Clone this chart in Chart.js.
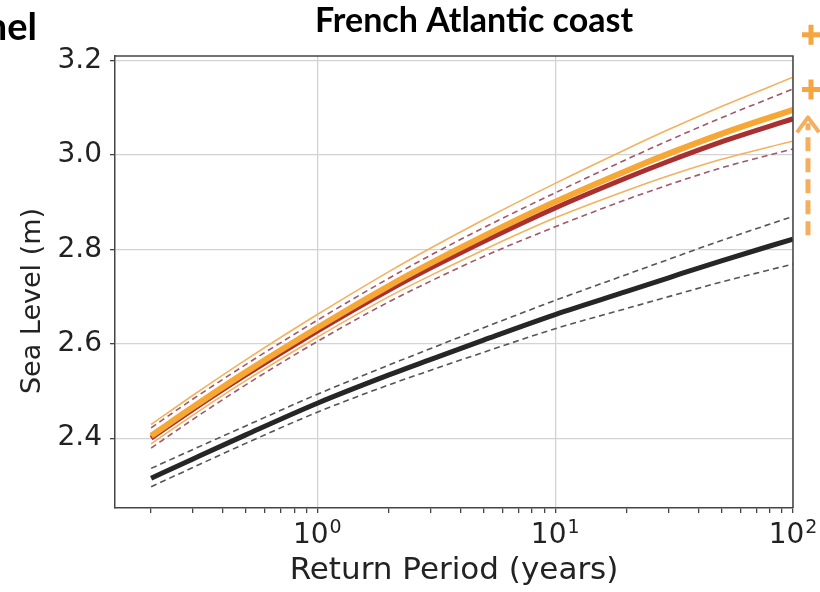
<!DOCTYPE html>
<html>
<head>
<meta charset="utf-8">
<script src="https://cdn.jsdelivr.net/npm/chart.js@4.4.1/dist/chart.umd.min.js"></script>
<style>
  body { margin: 0; background: #fff; overflow: hidden; }
  #wrap { width: 820px; height: 592px; }
</style>
</head>
<body>
<div id="wrap"><canvas id="chart" width="820" height="592"></canvas></div>
<script>
// Return periods (years) sampled along the curves
const returnPeriods = [0.2, 0.3, 0.5, 1, 2, 3, 5, 10, 20, 30, 50, 100];

// Present-day return levels (black)
const histCentral = [2.315, 2.356, 2.407, 2.474, 2.534, 2.567, 2.608, 2.662, 2.711, 2.740, 2.776, 2.822];
const histUpper   = [2.336, 2.376, 2.426, 2.493, 2.555, 2.590, 2.634, 2.692, 2.747, 2.779, 2.819, 2.870];
const histLower   = [2.297, 2.338, 2.389, 2.455, 2.513, 2.544, 2.582, 2.632, 2.675, 2.700, 2.731, 2.769];

// Future return levels (dark red)
const redCentral  = [2.400, 2.461, 2.534, 2.627, 2.714, 2.761, 2.817, 2.888, 2.952, 2.987, 3.028, 3.077];
const redUpper    = [2.422, 2.483, 2.556, 2.650, 2.739, 2.788, 2.846, 2.920, 2.991, 3.031, 3.079, 3.140];
const redLower    = [2.379, 2.440, 2.513, 2.605, 2.689, 2.733, 2.785, 2.848, 2.906, 2.937, 2.973, 3.013];

// Future return levels (orange)
const orangeCentral = [2.405, 2.466, 2.540, 2.634, 2.723, 2.771, 2.828, 2.901, 2.967, 3.003, 3.045, 3.096];
const orangeUpper   = [2.429, 2.491, 2.566, 2.662, 2.753, 2.803, 2.863, 2.940, 3.013, 3.054, 3.103, 3.165];
const orangeLower   = [2.388, 2.449, 2.522, 2.614, 2.700, 2.745, 2.799, 2.867, 2.925, 2.956, 2.991, 3.030];

// Axis ticks
const yTickValues = [2.4, 2.6, 2.8, 3.0, 3.2];
const xMajorTicks = [1, 10, 100];
const xTickExponents = ['0', '1', '2'];
const xMinorTicks = [0.2, 0.3, 0.4, 0.5, 0.6, 0.7, 0.8, 0.9,
                     2, 3, 4, 5, 6, 7, 8, 9,
                     20, 30, 40, 50, 60, 70, 80, 90];

// Markers to the right of the plot
const plusLevels = [3.255, 3.139];
const arrowRange = [2.83, 3.08];

const toPoints = arr => arr.map((v, i) => ({ x: returnPeriods[i], y: v }));

function line(data, color, width, dash, order) {
  return {
    data: toPoints(data),
    borderColor: color,
    borderWidth: width,
    borderDash: dash || [],
    pointRadius: 0,
    fill: false,
    cubicInterpolationMode: 'monotone',
    order: order
  };
}

const extras = {
  id: 'extras',
  afterDraw(chart) {
    const ctx = chart.ctx;
    const area = chart.chartArea;
    const xs = chart.scales.x;
    const ys = chart.scales.y;
    ctx.save();

    // frame (top and right spines)
    ctx.strokeStyle = '#444';
    ctx.lineWidth = 1.5;
    ctx.beginPath();
    ctx.moveTo(area.left, area.top);
    ctx.lineTo(area.right, area.top);
    ctx.lineTo(area.right, area.bottom);
    ctx.stroke();

    // x tick labels as 10^n
    ctx.fillStyle = '#222';
    ctx.textBaseline = 'alphabetic';
    ctx.textAlign = 'left';
    xMajorTicks.forEach((v, i) => {
      const px = xs.getPixelForValue(v);
      ctx.font = '28px "DejaVu Sans", sans-serif';
      const w1 = ctx.measureText('10').width;
      ctx.font = '19px "DejaVu Sans", sans-serif';
      const w2 = ctx.measureText(xTickExponents[i]).width;
      const start = px - (w1 + w2 + 1) / 2;
      ctx.font = '28px "DejaVu Sans", sans-serif';
      ctx.fillText('10', start, area.bottom + 35);
      ctx.font = '19px "DejaVu Sans", sans-serif';
      ctx.fillText(xTickExponents[i], start + w1 + 1, area.bottom + 25);
    });

    // titles
    ctx.fillStyle = '#000';
    ctx.font = 'bold 34px Lato, "Open Sans", sans-serif';
    ctx.textAlign = 'center';
    ctx.fillText('French Atlantic coast', 474, 32);

    ctx.font = 'bold 38px Lato, "Open Sans", sans-serif';
    ctx.textAlign = 'right';
    ctx.fillText('English Channel', 37, 40);

    // y axis title
    ctx.fillStyle = '#222';
    ctx.font = '27px "DejaVu Sans", sans-serif';
    ctx.textAlign = 'center';
    ctx.translate(40, 301);
    ctx.rotate(-Math.PI / 2);
    ctx.fillText('Sea Level (m)', 0, 0);
    ctx.setTransform(1, 0, 0, 1, 0, 0);

    // plus markers
    const mx = area.right + 18;
    ctx.strokeStyle = '#f5a640';
    ctx.lineWidth = 5;
    plusLevels.forEach(v => {
      const py = ys.getPixelForValue(v);
      ctx.beginPath();
      ctx.moveTo(mx - 9, py); ctx.lineTo(mx + 9, py);
      ctx.moveTo(mx, py - 10); ctx.lineTo(mx, py + 10);
      ctx.stroke();
    });

    // dashed arrow
    const ax = area.right + 15;
    const y0 = ys.getPixelForValue(arrowRange[0]);
    const y1 = ys.getPixelForValue(arrowRange[1]);
    ctx.strokeStyle = '#f3ae5e';
    ctx.lineWidth = 5;
    ctx.setLineDash([14, 7]);
    ctx.beginPath();
    ctx.moveTo(ax, y0); ctx.lineTo(ax, y1 + 6);
    ctx.stroke();
    ctx.setLineDash([]);
    ctx.lineWidth = 4;
    ctx.lineJoin = 'round';
    ctx.beginPath();
    ctx.moveTo(ax - 11, y1 + 15); ctx.lineTo(ax, y1); ctx.lineTo(ax + 11, y1 + 15);
    ctx.stroke();
    ctx.restore();
  }
};

new Chart(document.getElementById('chart'), {
  type: 'line',
  data: {
    datasets: [
      line(orangeCentral, '#f7a733', 6, null, 0),
      line(redCentral, '#a83030', 5, null, 1),
      line(histCentral, '#262626', 5, null, 1),
      line(orangeUpper, '#f2b25f', 1.6, null, 3),
      line(orangeLower, '#f2b25f', 1.6, null, 3),
      line(redUpper, '#a0586a', 1.6, [6, 4], 2),
      line(redLower, '#a0586a', 1.6, [6, 4], 2),
      line(histUpper, '#555', 1.6, [6, 4], 2),
      line(histLower, '#555', 1.6, [6, 4], 2)
    ]
  },
  options: {
    responsive: false,
    animation: false,
    layout: { padding: { left: 0, right: 27, top: 56, bottom: 0 } },
    plugins: { legend: { display: false }, tooltip: { enabled: false } },
    scales: {
      x: {
        type: 'logarithmic',
        min: 0.141,
        max: 100,
        afterBuildTicks: s => {
          s.ticks = xMinorTicks.concat(xMajorTicks).sort((a, b) => a - b)
            .map(v => ({ value: v, major: xMajorTicks.includes(v) }));
        },
        afterFit: s => { s.height = 84; },
        ticks: {
          autoSkip: false,
          maxRotation: 0,
          callback: () => ''
        },
        grid: {
          color: c => (c.tick && xMajorTicks.includes(c.tick.value)) ? '#d2d2d2' : 'rgba(0,0,0,0)',
          lineWidth: 1.3,
          tickColor: '#444',
          tickLength: 5
        },
        border: { color: '#444', width: 1.5 },
        title: {
          display: true,
          text: 'Return Period (years)',
          color: '#222',
          font: { family: '"DejaVu Sans", sans-serif', size: 31 },
          padding: { top: 0, bottom: 2 }
        }
      },
      y: {
        min: 2.252,
        max: 3.21,
        afterBuildTicks: s => { s.ticks = yTickValues.map(v => ({ value: v })); },
        afterFit: s => { s.width = 115; },
        ticks: {
          padding: 8,
          color: '#222',
          font: { family: '"DejaVu Sans", sans-serif', size: 28 },
          callback: v => v.toFixed(1)
        },
        grid: { color: '#d2d2d2', lineWidth: 1.3, tickColor: '#444', tickLength: 5 },
        border: { color: '#444', width: 1.5 }
      }
    }
  },
  plugins: [extras]
});
</script>
</body>
</html>
